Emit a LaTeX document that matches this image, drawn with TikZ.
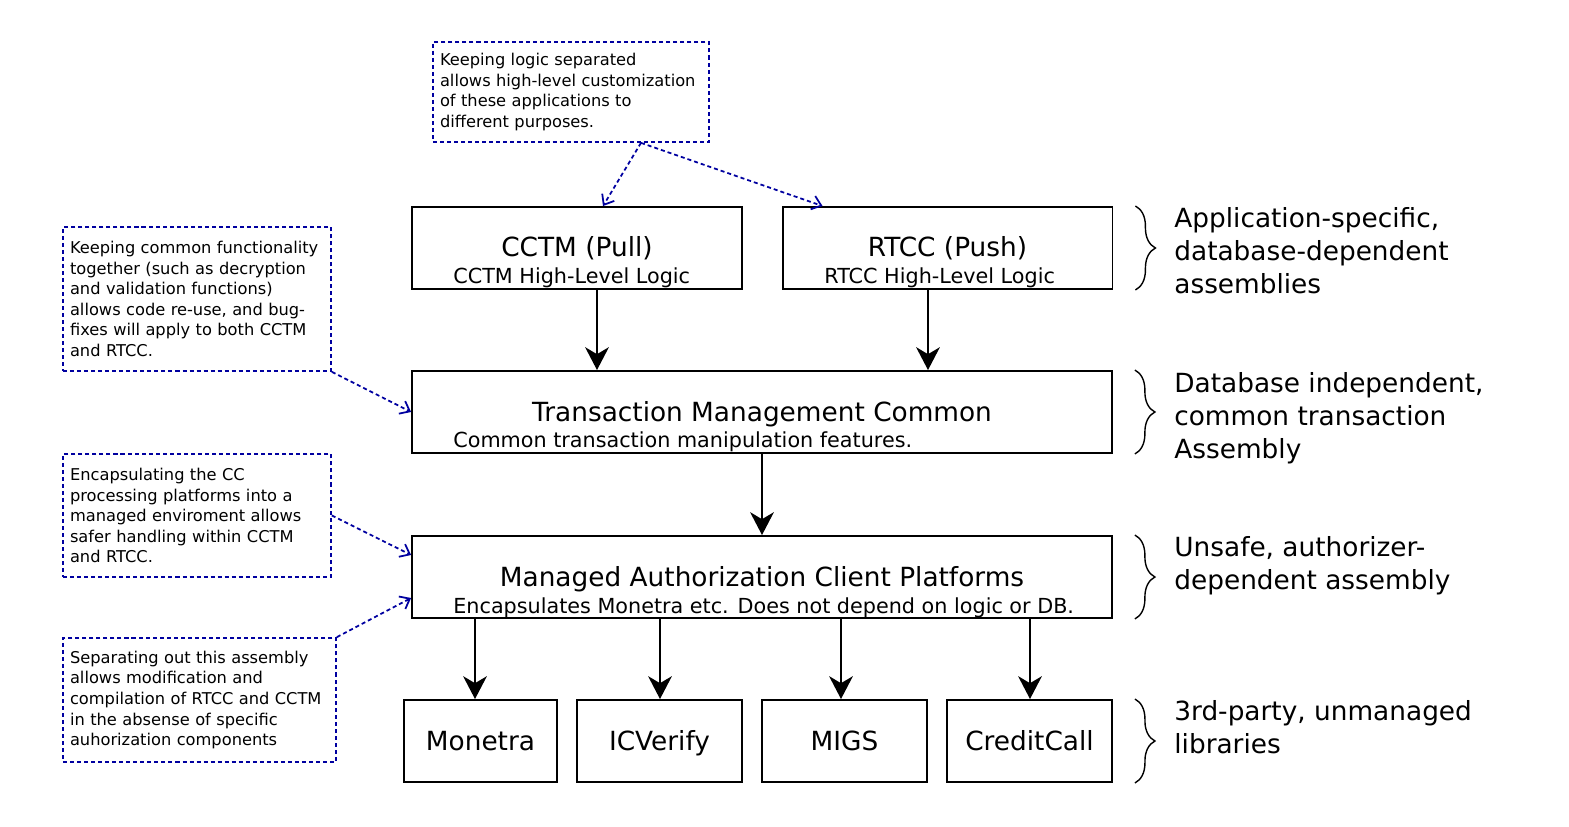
\documentclass[tikz,border=0pt]{standalone}
\usepackage{fontspec}
\setmainfont{DejaVu Sans}
\usetikzlibrary{arrows.meta,decorations.pathreplacing}
\definecolor{notecol}{RGB}{0,0,160}
\tikzset{
  block/.style={draw, line width=1.1pt, inner sep=0pt, minimum height=1.64cm},
  boxtitle/.style={inner sep=0pt, anchor=base, font=\fontsize{15}{18}\selectfont},
  boxsub/.style={inner sep=0pt, anchor=base west, font=\fontsize{11.8}{14}\selectfont},
  lib/.style={block, font=\fontsize{15}{18}\selectfont, text height=11pt, text depth=0pt},
  note/.style={draw=notecol, line width=1pt, dash pattern=on 2.3pt off 1.7pt, inner xsep=0.14cm, inner ysep=0pt, align=left, font=\fontsize{9.25}{11.7}\selectfont},
  flow/.style={-{Stealth[length=13pt,width=13.5pt,inset=4pt]}, line width=1.15pt},
  hint/.style={notecol, line width=1pt, dash pattern=on 2.3pt off 1.7pt, -{Straight Barb[length=5pt,width=8pt]}},
  layerbrace/.style={decorate, decoration={brace,amplitude=0.4cm}, line width=0.8pt},
  layer/.style={inner sep=0pt, anchor=north west, align=left, font=\fontsize{15}{18.8}\selectfont}
}
\begin{document}
\begin{tikzpicture}[x=0.02cm, y=-0.02cm]
\useasboundingbox (0,0) rectangle (1569,827);
%
\node[block, minimum width=6.6cm] (cctm) at (577,248) {};
\node[boxtitle] (cctmtitle) at (577,257) {CCTM (Pull)};
\node[boxsub] (cctmsub) at (453,284) {CCTM High-Level Logic};
%
\node[block, minimum width=6.6cm] (rtcc) at (947.5,248) {};
\node[boxtitle] (rtcctitle) at (947.5,257) {RTCC (Push)};
\node[boxsub] (rtccsub) at (824,284) {RTCC High-Level Logic};
%
\node[block, minimum width=14cm] (tmc) at (762,412) {};
\node[boxtitle] (tmctitle) at (762,421) {Transaction Management Common};
\node[boxsub] (tmcsub) at (453,448) {Common transaction manipulation features.};
%
\node[block, minimum width=14cm] (macp) at (762,577) {};
\node[boxtitle] (macptitle) at (762,586) {Managed Authorization Client Platforms};
\node[boxsub] (macpsub) at (453,613) {Encapsulates Monetra etc. Does not depend on logic or DB.};
%
\node[lib, minimum width=3.06cm] (monetra) at (480.5,741) {Monetra};
\node[lib, minimum width=3.3cm] (icverify) at (659.5,741) {ICVerify};
\node[lib, minimum width=3.3cm] (migs) at (844.5,741) {MIGS};
\node[lib, minimum width=3.3cm] (creditcall) at (1029.5,741) {CreditCall};
%
\draw[flow] ([xshift=0.4cm]cctm.south) -- ([xshift=0.4cm]cctm.south |- tmc.north);
\draw[flow] ([xshift=-0.39cm]rtcc.south) -- ([xshift=-0.39cm]rtcc.south |- tmc.north);
\draw[flow] (tmc.south) -- (macp.north);
\draw[flow] ([xshift=-0.11cm]monetra.north |- macp.south) -- ([xshift=-0.11cm]monetra.north);
\draw[flow] ([xshift=0.01cm]icverify.north |- macp.south) -- ([xshift=0.01cm]icverify.north);
\draw[flow] ([xshift=-0.07cm]migs.north |- macp.south) -- ([xshift=-0.07cm]migs.north);
\draw[flow] ([xshift=0.01cm]creditcall.north |- macp.south) -- ([xshift=0.01cm]creditcall.north);
%
\node[note, text width=5.24cm, minimum height=2cm] (sepnote) at (571,92)
  {Keeping logic separated\\allows high-level customization\\of these applications to\\different purposes.};
\node[note, text width=5.08cm, minimum height=2.88cm] (commonnote) at (197,299)
  {Keeping common functionality\\together (such as decryption\\and validation functions)\\allows code re-use, and bug-\\fixes will apply to both CCTM\\and RTCC.};
\node[note, text width=5.08cm, minimum height=2.46cm] (platformnote) at (197,515.5)
  {Encapsulating the CC\\processing platforms into a\\managed enviroment allows\\safer handling within CCTM\\and RTCC.};
\node[note, text width=5.18cm, minimum height=2.48cm] (assemblynote) at (199.5,700)
  {Separating out this assembly\\allows modification and\\compilation of RTCC and CCTM\\in the absense of specific\\auhorization components};
%
\draw[hint] ([xshift=1.4cm]sepnote.south) -- ([xshift=0.52cm]cctm.north);
\draw[hint] ([xshift=1.4cm]sepnote.south) -- ([xshift=0.82cm]rtcc.north west);
\draw[hint] (commonnote.south east) -- (tmc.west);
\draw[hint] (platformnote.east) -- ([yshift=0.44cm]macp.west);
\draw[hint] (assemblynote.north east) -- ([yshift=-0.42cm]macp.west);
%
\draw[layerbrace] ([xshift=0.44cm]rtcc.north east) -- ([xshift=0.44cm]rtcc.south east);
\draw[layerbrace] ([xshift=0.44cm]tmc.north east) -- ([xshift=0.44cm]tmc.south east);
\draw[layerbrace] ([xshift=0.44cm]macp.north east) -- ([xshift=0.44cm]macp.south east);
\draw[layerbrace] ([xshift=0.44cm]creditcall.north east) -- ([xshift=0.44cm]creditcall.south east);
%
\node[layer] (applabel) at (1174,207.5) {Application-specific,\\database-dependent\\assemblies};
\node[layer] (dblabel) at (1174,372.5) {Database independent,\\common transaction\\Assembly};
\node[layer] (unsafelabel) at (1174,536.5) {Unsafe, authorizer-\\dependent assembly};
\node[layer] (thirdlabel) at (1174,700.5) {3rd-party, unmanaged\\libraries};
\end{tikzpicture}
\end{document}
